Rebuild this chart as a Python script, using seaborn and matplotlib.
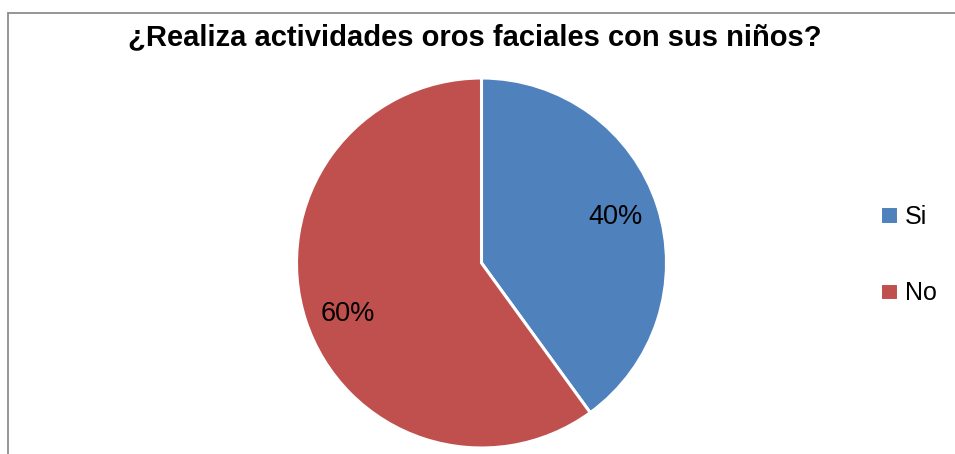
import matplotlib
matplotlib.use("Agg")
import numpy as np
import matplotlib.pyplot as plt
from matplotlib.lines import Line2D
import seaborn as sns

sns.set_theme(style="white")
plt.rcParams["font.family"] = ["Liberation Sans", "DejaVu Sans"]
plt.rcParams["text.color"] = "black"

labels = ["Si", "No"]
values = [40, 60]
colors = ["#4F81BD", "#C0504D"]
title = "¿Realiza actividades oros faciales con sus niños?"

W, H = 955, 454
fig = plt.figure(figsize=(W / 100, H / 100), dpi=100)

# pie centred at (481.5, 263) px, radius 185 px
cx, cy, r = 481.5, 263, 185
ax = fig.add_axes([(cx - r) / W, (H - cy - r) / H, 2 * r / W, 2 * r / H])
wedges, texts, autotexts = ax.pie(
    values, colors=colors, startangle=90, counterclock=False,
    autopct="%1.0f%%", pctdistance=0.77,
    wedgeprops=dict(edgecolor="white", linewidth=2.2),
    textprops=dict(fontsize=19.5, color="black"),
)
# nudge labels slightly around the pie like the original
for w, t in zip(wedges, autotexts):
    ang = np.deg2rad((w.theta1 + w.theta2) / 2 + 2)
    t.set_position((0.77 * np.cos(ang), 0.77 * np.sin(ang) - 0.015))
ax.set_xlim(-1.0, 1.0)
ax.set_ylim(-1.0, 1.0)
ax.set_aspect("auto")
ax.axis("off")

fig.text(475 / W, 1 - 37 / H, title, ha="center", va="center",
         fontsize=21, fontweight="bold", color="black")

fig.legend(wedges, labels, loc="center left", bbox_to_anchor=(880 / W, 1 - 255 / H),
           frameon=False, fontsize=18, handlelength=0.7, handleheight=0.7,
           handletextpad=0.3, labelspacing=2.1, borderpad=0, borderaxespad=0)

# chart border (left and top edges visible)
bx, by = 7.5 / W, 1 - 13 / H
fig.add_artist(Line2D([bx, bx], [0, by], transform=fig.transFigure, color="#8c8c8c", lw=1.3))
fig.add_artist(Line2D([bx, 1], [by, by], transform=fig.transFigure, color="#8c8c8c", lw=1.3))

fig.savefig("out.png", dpi=100, facecolor="white")
